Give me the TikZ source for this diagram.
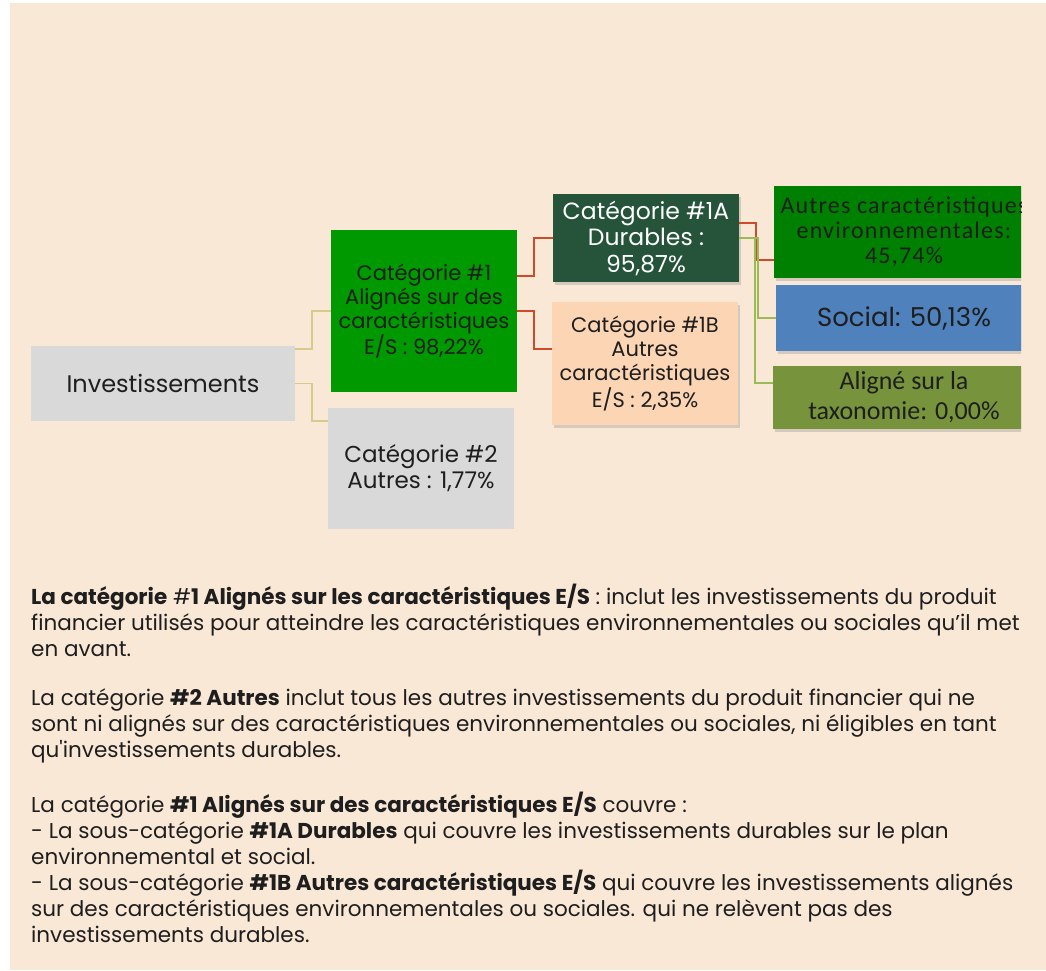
\documentclass[tikz,border=0pt]{standalone}
\usepackage{fontspec}
\setmainfont{Poppins}
\newfontfamily\calibfont{Carlito}
\newfontfamily\calibwide[LetterSpace=5]{Carlito}
\usetikzlibrary{positioning,shadows}

\definecolor{beige}{HTML}{FAE8D7}
\definecolor{lightgray}{HTML}{D9D9D9}
\definecolor{greencat}{HTML}{009900}
\definecolor{darkcat}{HTML}{25543A}
\definecolor{peach}{HTML}{FCD5B4}
\definecolor{greenenv}{HTML}{008000}
\definecolor{bluesoc}{HTML}{4F81BD}
\definecolor{olive}{HTML}{77933C}
\definecolor{tanc}{HTML}{D6CA8C}
\definecolor{redc}{HTML}{CC4B2B}
\definecolor{greenc}{HTML}{9BBB59}
\definecolor{txt}{HTML}{1E1E1E}

\begin{document}
\begin{tikzpicture}[x=1pt,y=-1pt,
	box/.style={inner sep=0pt,align=center,text=txt},
	shade/.style={drop shadow={shadow xshift=2pt,shadow yshift=-2.5pt,opacity=0.3}},
	tanline/.style={draw=tanc,line width=1.8pt},
	redline/.style={draw=redc,line width=1.8pt},
	greenline/.style={draw=greenc,line width=1.8pt},
	para/.style={inner sep=0pt,anchor=north west,align=left,text=txt,font=\fontsize{21.5}{26}\selectfont}]
	\useasboundingbox (0,0) rectangle (1046,970);
	\fill[white] (0,0) rectangle (1046,970);
	\fill[beige] (10,3) rectangle (1046,970);

	% tree
	\node[box,fill=lightgray,minimum width=264pt,minimum height=75pt,font=\fontsize{24}{26}\selectfont] (inv) at (163,383.5) {Investissements};
	\node[box,fill=greencat,minimum width=186pt,minimum height=162pt,font=\fontsize{21}{24}\selectfont] (cat1) at (424,311) {Catégorie \#1\\Alignés sur des\\caractéristiques\\E/S : 98,22\%};
	\node[box,fill=lightgray,minimum width=186pt,minimum height=121pt,font=\fontsize{23}{26}\selectfont] (cat2) at (421,468.5) {Catégorie \#2\\Autres : 1,77\%};
	\node[box,shade,fill=darkcat,text=white,minimum width=186pt,minimum height=88pt,font=\fontsize{23.5}{26.5}\selectfont] (cat1a) at (646,238) {Catégorie \#1A\\Durables :\\95,87\%};
	\node[box,shade,fill=peach,minimum width=186pt,minimum height=123pt,font=\fontsize{21}{24}\selectfont] (cat1b) at (645,363.5) {Catégorie \#1B\\Autres\\caractéristiques\\E/S : 2,35\%};
	\begin{scope}
		\clip (0,0) rectangle (1021,970);
		\node[box,shade,fill=greenenv,minimum width=260pt,minimum height=92pt,font=\calibwide\fontsize{24}{25}\selectfont] (autres) at (904,232) {Autres caractéristiques\\environnementales:\\45,74\%};
		\node[box,shade,fill=bluesoc,minimum width=256pt,minimum height=66pt,font=\fontsize{26}{28}\selectfont] (social) at (904,318) {Social: 50,13\%};
		\node[box,shade,fill=olive,minimum width=262pt,minimum height=63pt,font=\calibfont\fontsize{26}{30}\selectfont] (aligne) at (904,397.5) {Aligné sur la\\taxonomie: 0,00\%};
	\end{scope}

	\draw[tanline] ([yshift=34.5pt]inv.east) -- ++(17,0) |- (cat1.west);
	\draw[tanline] (inv.east) -- ++(17,0) |- ([yshift=47.5pt]cat2.west);
	\draw[redline] ([yshift=35pt]cat1.east) -- ++(17,0) |- (cat1a.west);
	\draw[redline] (cat1.east) -- ++(17,0) |- ([yshift=14.5pt]cat1b.west);
	\draw[redline] ([yshift=15pt]cat1a.east) -- ++(17,0) |- ([yshift=-28pt]autres.west);
	\draw[greenline] (cat1a.east) -- ++(19,0) |- (social.west);
	\draw[greenline] (cat1a.east) -- ++(16,0) |- ([yshift=14.5pt]aligne.west);

	% notes
	\node[para] (note1) at (31,583.5) {\textbf{La catégorie} \#\textbf{1 Alignés sur les caractéristiques E/S} : inclut les investissements du produit\\financier utilisés pour atteindre les caractéristiques environnementales ou sociales qu’il met\\en avant.};
	\node[para] (note2) at (31,688.5) {La catégorie \textbf{\#2 Autres} inclut tous les autres investissements du produit financier qui ne\\sont ni alignés sur des caractéristiques environnementales ou sociales, ni éligibles en tant\\qu\textquotesingle investissements durables.};
	\node[para] (note3) at (31,791.5) {La catégorie \textbf{\#1 Alignés sur des caractéristiques E/S} couvre :\\- La sous-catégorie \textbf{\#1A Durables} qui couvre les investissements durables sur le plan\\environnemental et social.\\- La sous-catégorie \textbf{\#1B Autres caractéristiques E/S} qui couvre les investissements alignés\\sur des caractéristiques environnementales ou sociales. qui ne relèvent pas des\\investissements durables.};
\end{tikzpicture}
\end{document}
